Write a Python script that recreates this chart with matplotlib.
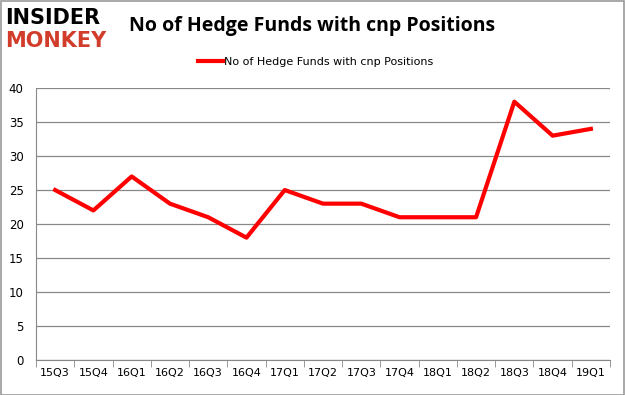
import numpy as np
import matplotlib
matplotlib.use("Agg")
import matplotlib.pyplot as plt

quarters = ["15Q3", "15Q4", "16Q1", "16Q2", "16Q3", "16Q4", "17Q1", "17Q2",
            "17Q3", "17Q4", "18Q1", "18Q2", "18Q3", "18Q4", "19Q1"]
funds = [25, 22, 27, 23, 21, 18, 25, 23, 23, 21, 21, 21, 38, 33, 34]
yticks = [0, 5, 10, 15, 20, 25, 30, 35, 40]
series_name = "No of Hedge Funds with cnp Positions"

fig = plt.figure(figsize=(6.25, 3.95), dpi=100)
ax = fig.add_axes([0.0576, 0.0886, 0.9184, 0.6884])

x = np.arange(len(quarters))
ax.plot(x, funds, color="#ff0000", linewidth=3, label=series_name)

ax.set_xlim(-0.5, len(quarters) - 0.5)
ax.set_ylim(0, 40)
ax.set_yticks(yticks)
ax.set_yticklabels([str(v) for v in yticks], fontsize=8.5)
ax.yaxis.grid(True, color="#888888", linewidth=0.9)
ax.set_axisbelow(True)
ax.tick_params(axis="y", length=0, pad=9)

# category labels centred, tick marks between categories
ax.set_xticks(x)
ax.set_xticklabels(quarters, fontsize=8)
ax.tick_params(axis="x", which="major", length=0, pad=6)
ax.set_xticks(np.arange(-0.5, len(quarters)), minor=True)
ax.tick_params(axis="x", which="minor", length=5, color="#888888")

for s in ["top", "right"]:
    ax.spines[s].set_visible(False)
ax.spines["left"].set_color("#888888")
ax.spines["bottom"].set_color("#888888")

fig.legend(loc="center", bbox_to_anchor=(0.505, 0.843), frameon=False,
           fontsize=8, handlelength=2.3, handletextpad=0.1)

fig.text(0.50, 0.935, "No of Hedge Funds with cnp Positions", ha="center",
         va="center", fontsize=14, fontweight="bold", family="Open Sans")

# logo
fig.text(0.008, 0.955, "INSIDER", ha="left", va="center", fontsize=15,
         fontweight="bold", color="black", family="DejaVu Sans")
fig.text(0.008, 0.895, "MONKEY", ha="left", va="center", fontsize=15,
         fontweight="bold", color="#d23c2a", family="DejaVu Sans")

fig.patches.append(plt.Rectangle((0.001, 0.001), 0.997, 0.997, transform=fig.transFigure,
                                 fill=False, edgecolor="#999999", linewidth=1.2))

fig.savefig("out.png", dpi=100)
